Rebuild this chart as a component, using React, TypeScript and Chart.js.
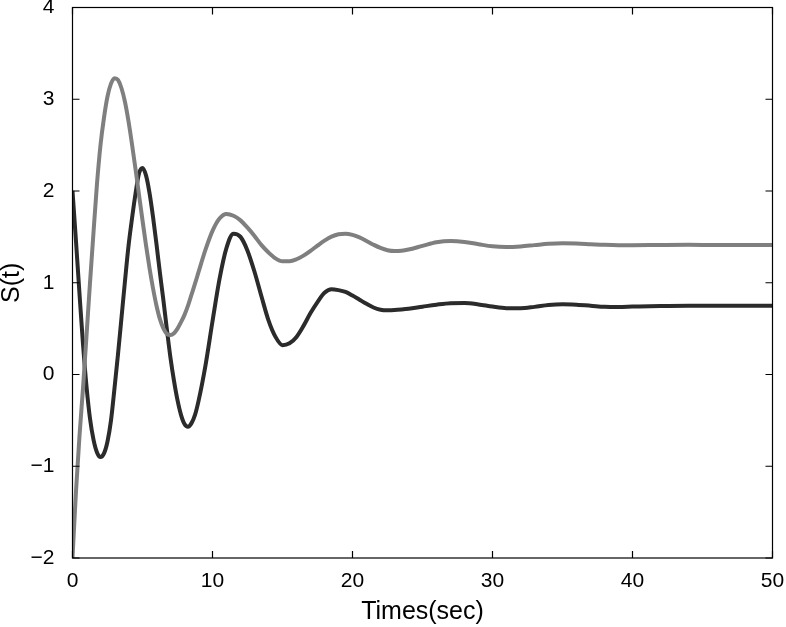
import React, { useEffect, useRef } from "react";
import { Chart, registerables } from "chart.js";

Chart.register(...registerables);

const times = [
  0, 0.25, 0.5, 0.75, 1, 1.25, 1.5, 1.75, 2, 2.25, 2.5, 2.75, 3, 3.25, 3.5, 3.75, 4, 4.25, 4.5, 4.75,
  5, 5.25, 5.5, 5.75, 6, 6.25, 6.5, 6.75, 7, 7.25, 7.5, 7.75, 8, 8.25, 8.5, 8.75, 9,
  9.5, 10, 10.5, 11, 11.5, 12, 12.5, 13, 13.5, 14, 14.5, 15, 15.5, 16, 16.5, 17, 17.5, 18, 18.5,
  19, 19.5, 20, 20.5, 21, 21.5, 22, 22.5, 23, 23.5, 24,
  25, 26, 27, 28, 29, 30, 31, 32, 33, 34, 35, 36, 37, 38, 39, 40,
  42, 44, 46, 48, 50,
];

const darkSeries = [
  2.0, 1.45, 0.88, 0.33, -0.13, -0.48, -0.71, -0.85, -0.9, -0.86, -0.73, -0.5, -0.15, 0.22, 0.62, 1.02, 1.4, 1.7, 1.97, 2.19,
  2.25, 2.17, 1.98, 1.72, 1.42, 1.1, 0.8, 0.48, 0.18, -0.07, -0.28, -0.44, -0.54, -0.57, -0.53, -0.44, -0.29,
  0.1, 0.58, 1.04, 1.38, 1.535, 1.5, 1.35, 1.12, 0.85, 0.59, 0.41, 0.32, 0.34, 0.41, 0.53, 0.67, 0.79, 0.89, 0.93,
  0.92, 0.9, 0.86, 0.815, 0.77, 0.73, 0.706, 0.7, 0.702, 0.708, 0.716,
  0.739, 0.761, 0.777, 0.779, 0.764, 0.74, 0.723, 0.722, 0.737, 0.757, 0.765, 0.76, 0.75, 0.738, 0.736, 0.74,
  0.747, 0.75, 0.75, 0.75, 0.75,
];

const graySeries = [
  -2.0, -1.27, -0.67, -0.15, 0.42, 1.0, 1.55, 2.08, 2.5, 2.8, 3.03, 3.17, 3.23, 3.21, 3.12, 2.97, 2.76, 2.51, 2.24, 1.96,
  1.68, 1.41, 1.16, 0.94, 0.75, 0.6, 0.5, 0.44, 0.43, 0.45, 0.5, 0.57, 0.65, 0.75, 0.87, 0.99, 1.115,
  1.36, 1.565, 1.7, 1.75, 1.73, 1.68, 1.6, 1.51, 1.41, 1.33, 1.265, 1.233, 1.234, 1.256, 1.296, 1.348, 1.405, 1.459, 1.502,
  1.528, 1.535, 1.522, 1.494, 1.456, 1.415, 1.379, 1.354, 1.345, 1.349, 1.362,
  1.402, 1.441, 1.455, 1.445, 1.42, 1.397, 1.39, 1.396, 1.41, 1.424, 1.43, 1.427, 1.42, 1.413, 1.41, 1.41,
  1.412, 1.413, 1.412, 1.412, 1.412,
];

const xTicks = [0, 10, 20, 30, 40, 50];
const yTicks = [-2, -1, 0, 1, 2, 3, 4];

const FONT = "'Liberation Sans', Arial, Helvetica, sans-serif";

const boxTicksPlugin = {
  id: "boxTicks",
  afterDraw(chart: any) {
    const { ctx, chartArea } = chart;
    const { left, right, top, bottom } = chartArea;
    const xs = chart.scales.x;
    const ys = chart.scales.y;
    const len = 7;
    ctx.save();
    ctx.strokeStyle = "#000";
    ctx.lineWidth = 1.2;
    ctx.strokeRect(left, top, right - left, bottom - top);
    ctx.beginPath();
    xTicks.forEach((v) => {
      const px = xs.getPixelForValue(v);
      ctx.moveTo(px, bottom);
      ctx.lineTo(px, bottom - len);
      ctx.moveTo(px, top);
      ctx.lineTo(px, top + len);
    });
    yTicks.forEach((v) => {
      const py = ys.getPixelForValue(v);
      ctx.moveTo(left, py);
      ctx.lineTo(left + len, py);
      ctx.moveTo(right, py);
      ctx.lineTo(right - len, py);
    });
    ctx.stroke();
    ctx.restore();
  },
};

const zeroPad = (scale: any) => {
  scale.paddingTop = 0;
  scale.paddingBottom = 0;
  scale.paddingLeft = 0;
  scale.paddingRight = 0;
};

export default function App() {
  const canvasRef = useRef<HTMLCanvasElement | null>(null);

  useEffect(() => {
    const canvas = canvasRef.current;
    if (!canvas) return;
    const toPoints = (vals: number[]) => times.map((t, i) => ({ x: t, y: vals[i] }));
    const chart = new Chart(canvas, {
      type: "line",
      data: {
        datasets: [
          {
            label: "gray",
            data: toPoints(graySeries),
            borderColor: "#7f7f7f",
            borderWidth: 4,
            pointRadius: 0,
            cubicInterpolationMode: "monotone",
            fill: false,
          },
          {
            label: "dark",
            data: toPoints(darkSeries),
            borderColor: "#2b2b2b",
            borderWidth: 4,
            pointRadius: 0,
            cubicInterpolationMode: "monotone",
            fill: false,
          },
        ],
      },
      options: {
        animation: false,
        responsive: false,
        maintainAspectRatio: false,
        events: [],
        layout: { autoPadding: false, padding: { top: 7.5, right: 13.5, left: 0, bottom: 0 } },
        plugins: {
          legend: { display: false },
          tooltip: { enabled: false },
        },
        scales: {
          x: {
            type: "linear",
            min: 0,
            max: 50,
            afterFit: (scale: any) => {
              scale.height = 69;
              zeroPad(scale);
            },
            afterBuildTicks: (scale: any) => {
              scale.ticks = xTicks.map((v) => ({ value: v }));
            },
            grid: { display: false },
            border: { display: false },
            ticks: {
              color: "#000",
              padding: 3,
              maxRotation: 0,
              font: { family: FONT, size: 21 },
              callback: (v: any) => String(v).replace("-", "\u2212"),
            },
            title: {
              display: true,
              text: "Times(sec)",
              color: "#000",
              font: { family: FONT, size: 25 },
              padding: { top: 0, bottom: 0 },
            },
          },
          y: {
            type: "linear",
            min: -2,
            max: 4,
            afterFit: (scale: any) => {
              scale.width = 72.5;
              zeroPad(scale);
            },
            afterBuildTicks: (scale: any) => {
              scale.ticks = yTicks.map((v) => ({ value: v }));
            },
            grid: { display: false },
            border: { display: false },
            ticks: {
              color: "#000",
              padding: 10,
              font: { family: FONT, size: 21 },
              callback: (v: any) => String(v).replace("-", "\u2212"),
            },
            title: {
              display: true,
              text: "S(t)",
              color: "#000",
              font: { family: FONT, size: 25, lineHeight: 1 },
              padding: { top: 0, bottom: 0 },
            },
          },
        },
      },
      plugins: [boxTicksPlugin],
    });
    return () => chart.destroy();
  }, []);

  return (
    <div style={{ position: "fixed", left: 0, top: 0, width: 786, height: 627, background: "#fff" }}>
      <canvas ref={canvasRef} width={786} height={627} style={{ width: 786, height: 627 }} />
    </div>
  );
}
